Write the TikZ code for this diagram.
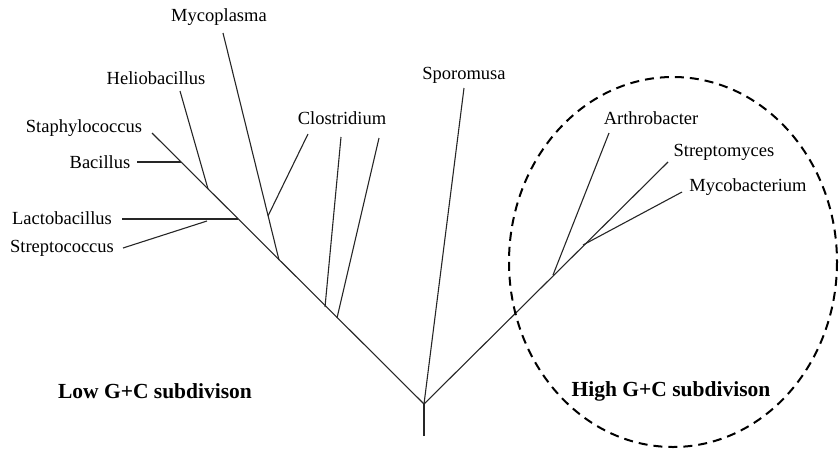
\documentclass[tikz,border=0pt]{standalone}
\usepackage{fontspec}
\setmainfont{Liberation Serif}
\begin{document}
\begin{tikzpicture}[x=1pt,y=-1pt,
  taxon/.style={font=\fontsize{18.5}{20}\selectfont, inner sep=0pt},
  group/.style={font=\fontsize{21.5}{24}\selectfont\bfseries, inner sep=0pt},
  branch/.style={draw=black!85, line width=1.1pt},
  region/.style={draw=black, line width=2pt, dash pattern=on 9pt off 6pt}]
\useasboundingbox (0,0) rectangle (840,453);

% branch points and tips
\coordinate (R) at (424,404);
\coordinate (S) at (424,436);
\coordinate (L0) at (152,133);
\coordinate (Bj) at (181,162);  \coordinate (Be) at (137,162);
\coordinate (Hj) at (208,189);  \coordinate (He) at (180,91);
\coordinate (Lj) at (238,219);  \coordinate (Le) at (122,219);
\coordinate (Sj) at (207,221);  \coordinate (Se) at (123,248);
\coordinate (Mj) at (279,260);  \coordinate (Me) at (223,33);
\coordinate (Cj1) at (268,216); \coordinate (Ce1) at (308,134);
\coordinate (Cj2) at (325,307); \coordinate (Ce2) at (341,137);
\coordinate (Cj3) at (337,318); \coordinate (Ce3) at (379,138);
\coordinate (Spe) at (464,88);
\coordinate (Ste) at (668,162);
\coordinate (Aj) at (553,275);  \coordinate (Ae) at (609,133);
\coordinate (Mbj) at (583,245); \coordinate (Mbe) at (682,192);

% tree
\draw[branch] (S) -- (R);
\draw[branch] (R) -- (L0);
\draw[branch] (Bj) -- (Be);
\draw[branch] (Hj) -- (He);
\draw[branch] (Lj) -- (Le);
\draw[branch] (Sj) -- (Se);
\draw[branch] (Mj) -- (Me);
\draw[branch] (Cj1) -- (Ce1);
\draw[branch] (Cj2) -- (Ce2);
\draw[branch] (Cj3) -- (Ce3);
\draw[branch] (R) -- (Spe);
\draw[branch] (R) -- (Ste);
\draw[branch] (Aj) -- (Ae);
\draw[branch] (Mbj) -- (Mbe);

% taxon names
\node[taxon] (staph) at (84,128) {Staphylococcus};
\node[taxon] (bac) at (100,162) {Bacillus};
\node[taxon] (helio) at (156,78) {Heliobacillus};
\node[taxon] (lacto) at (62,218) {Lactobacillus};
\node[taxon] (strepto) at (62,248) {Streptococcus};
\node[taxon] (myco) at (219,17) {Mycoplasma};
\node[taxon] (clos) at (342,118) {Clostridium};
\node[taxon] (sporo) at (464,75) {Sporomusa};
\node[taxon] (arth) at (651,118) {Arthrobacter};
\node[taxon] (strm) at (724,152) {Streptomyces};
\node[taxon] (mycob) at (748,187) {Mycobacterium};

% subdivisions
\node[group] (low) at (155,391) {Low G+C subdivison};
\node[group] (high) at (671,391) {High G+C subdivison};
\draw[region] (673,262) ellipse [x radius=164, y radius=185];
\end{tikzpicture}
\end{document}
